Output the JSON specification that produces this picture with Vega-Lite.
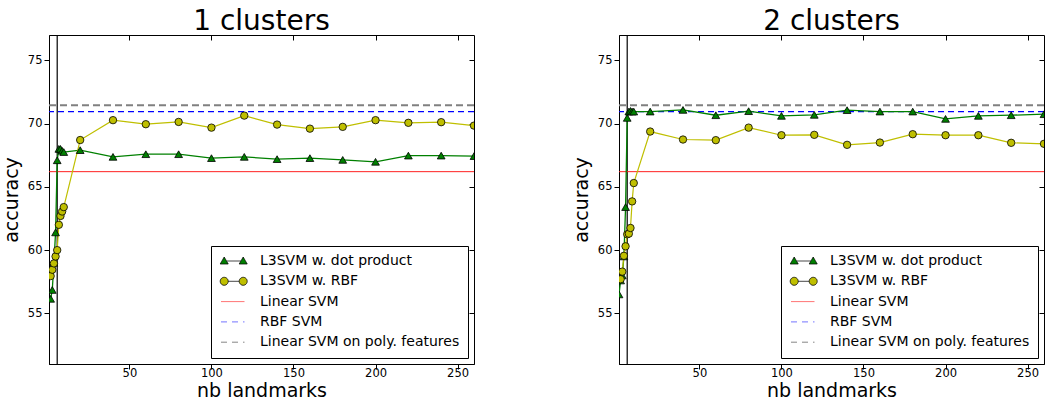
{
  "$schema": "https://vega.github.io/schema/vega-lite/v6.json",
  "padding": {"left": 1, "top": 7, "right": 0, "bottom": 0},
  "background": "white",
  "config": {
    "font": "DejaVu Sans",
    "view": {"stroke": "black", "strokeWidth": 1},
    "axis": {"labelFont": "DejaVu Sans", "labelFontSize": 11.5, "labelColor": "black", "tickColor": "black", "domainColor": "black", "titleFont": "DejaVu Sans", "titleFontSize": 19, "titleFontWeight": "normal", "titleColor": "black", "grid": false, "tickSize": 5},
    "title": {"font": "DejaVu Sans", "fontSize": 28, "fontWeight": "normal", "color": "black", "baseline": "alphabetic", "offset": -2, "anchor": "middle"},
    "legend": {"labelFont": "DejaVu Sans", "labelFontSize": 14, "labelColor": "black", "strokeColor": "black", "fillColor": "white", "padding": 8, "rowPadding": 6.3, "symbolSize": 100, "symbolOpacity": 1, "labelOffset": 27, "orient": "bottom-right", "offset": 6, "cornerRadius": 0, "labelLimit": 400, "title": null}
  },
  "datasets": {
    "p1": [
      {"series": "L3SVM w. dot product", "x": 2, "y": 56.15}, {"series": "L3SVM w. dot product", "x": 3, "y": 56.85}, {"series": "L3SVM w. dot product", "x": 4, "y": 59.0}, {"series": "L3SVM w. dot product", "x": 5, "y": 61.4}, {"series": "L3SVM w. dot product", "x": 6, "y": 67.1}, {"series": "L3SVM w. dot product", "x": 7, "y": 68.0}, {"series": "L3SVM w. dot product", "x": 8, "y": 68.0}, {"series": "L3SVM w. dot product", "x": 9, "y": 67.85}, {"series": "L3SVM w. dot product", "x": 10, "y": 67.75},
      {"series": "L3SVM w. dot product", "x": 20, "y": 67.9}, {"series": "L3SVM w. dot product", "x": 40, "y": 67.37}, {"series": "L3SVM w. dot product", "x": 60, "y": 67.58}, {"series": "L3SVM w. dot product", "x": 80, "y": 67.58}, {"series": "L3SVM w. dot product", "x": 100, "y": 67.27}, {"series": "L3SVM w. dot product", "x": 120, "y": 67.37}, {"series": "L3SVM w. dot product", "x": 140, "y": 67.19}, {"series": "L3SVM w. dot product", "x": 160, "y": 67.27}, {"series": "L3SVM w. dot product", "x": 180, "y": 67.13}, {"series": "L3SVM w. dot product", "x": 200, "y": 66.98}, {"series": "L3SVM w. dot product", "x": 220, "y": 67.47}, {"series": "L3SVM w. dot product", "x": 240, "y": 67.47}, {"series": "L3SVM w. dot product", "x": 260, "y": 67.43},
      {"series": "L3SVM w. RBF", "x": 2, "y": 57.95}, {"series": "L3SVM w. RBF", "x": 3, "y": 58.45}, {"series": "L3SVM w. RBF", "x": 4, "y": 58.95}, {"series": "L3SVM w. RBF", "x": 5, "y": 59.5}, {"series": "L3SVM w. RBF", "x": 6, "y": 60.0}, {"series": "L3SVM w. RBF", "x": 7, "y": 62.0}, {"series": "L3SVM w. RBF", "x": 8, "y": 62.7}, {"series": "L3SVM w. RBF", "x": 9, "y": 63.05}, {"series": "L3SVM w. RBF", "x": 10, "y": 63.4},
      {"series": "L3SVM w. RBF", "x": 20, "y": 68.7}, {"series": "L3SVM w. RBF", "x": 40, "y": 70.27}, {"series": "L3SVM w. RBF", "x": 60, "y": 69.95}, {"series": "L3SVM w. RBF", "x": 80, "y": 70.13}, {"series": "L3SVM w. RBF", "x": 100, "y": 69.68}, {"series": "L3SVM w. RBF", "x": 120, "y": 70.63}, {"series": "L3SVM w. RBF", "x": 140, "y": 69.92}, {"series": "L3SVM w. RBF", "x": 160, "y": 69.6}, {"series": "L3SVM w. RBF", "x": 180, "y": 69.74}, {"series": "L3SVM w. RBF", "x": 200, "y": 70.27}, {"series": "L3SVM w. RBF", "x": 220, "y": 70.06}, {"series": "L3SVM w. RBF", "x": 240, "y": 70.11}, {"series": "L3SVM w. RBF", "x": 260, "y": 69.84}
    ],
    "p2": [
      {"series": "L3SVM w. dot product", "x": 1, "y": 56.5}, {"series": "L3SVM w. dot product", "x": 2, "y": 57.6}, {"series": "L3SVM w. dot product", "x": 3, "y": 58.0}, {"series": "L3SVM w. dot product", "x": 4, "y": 59.5}, {"series": "L3SVM w. dot product", "x": 5, "y": 63.4}, {"series": "L3SVM w. dot product", "x": 6, "y": 70.45}, {"series": "L3SVM w. dot product", "x": 7, "y": 70.95}, {"series": "L3SVM w. dot product", "x": 8, "y": 71.0}, {"series": "L3SVM w. dot product", "x": 9, "y": 70.95}, {"series": "L3SVM w. dot product", "x": 10, "y": 70.95},
      {"series": "L3SVM w. dot product", "x": 20, "y": 70.95}, {"series": "L3SVM w. dot product", "x": 40, "y": 71.08}, {"series": "L3SVM w. dot product", "x": 60, "y": 70.66}, {"series": "L3SVM w. dot product", "x": 80, "y": 70.98}, {"series": "L3SVM w. dot product", "x": 100, "y": 70.61}, {"series": "L3SVM w. dot product", "x": 120, "y": 70.69}, {"series": "L3SVM w. dot product", "x": 140, "y": 71.06}, {"series": "L3SVM w. dot product", "x": 160, "y": 70.95}, {"series": "L3SVM w. dot product", "x": 180, "y": 70.95}, {"series": "L3SVM w. dot product", "x": 200, "y": 70.37}, {"series": "L3SVM w. dot product", "x": 220, "y": 70.61}, {"series": "L3SVM w. dot product", "x": 240, "y": 70.66}, {"series": "L3SVM w. dot product", "x": 260, "y": 70.74},
      {"series": "L3SVM w. RBF", "x": 2, "y": 57.7}, {"series": "L3SVM w. RBF", "x": 3, "y": 58.3}, {"series": "L3SVM w. RBF", "x": 4, "y": 59.55}, {"series": "L3SVM w. RBF", "x": 5, "y": 60.3}, {"series": "L3SVM w. RBF", "x": 6, "y": 61.25}, {"series": "L3SVM w. RBF", "x": 7, "y": 61.3}, {"series": "L3SVM w. RBF", "x": 8, "y": 61.75}, {"series": "L3SVM w. RBF", "x": 9, "y": 63.85}, {"series": "L3SVM w. RBF", "x": 10, "y": 65.3},
      {"series": "L3SVM w. RBF", "x": 20, "y": 69.37}, {"series": "L3SVM w. RBF", "x": 40, "y": 68.74}, {"series": "L3SVM w. RBF", "x": 60, "y": 68.69}, {"series": "L3SVM w. RBF", "x": 80, "y": 69.68}, {"series": "L3SVM w. RBF", "x": 100, "y": 69.08}, {"series": "L3SVM w. RBF", "x": 120, "y": 69.11}, {"series": "L3SVM w. RBF", "x": 140, "y": 68.32}, {"series": "L3SVM w. RBF", "x": 160, "y": 68.5}, {"series": "L3SVM w. RBF", "x": 180, "y": 69.16}, {"series": "L3SVM w. RBF", "x": 200, "y": 69.08}, {"series": "L3SVM w. RBF", "x": 220, "y": 69.08}, {"series": "L3SVM w. RBF", "x": 240, "y": 68.48}, {"series": "L3SVM w. RBF", "x": 260, "y": 68.4}
    ],
    "hl": [
      {"series": "Linear SVM", "y": 66.2},
      {"series": "RBF SVM", "y": 70.95},
      {"series": "Linear SVM on poly. features", "y": 71.45}
    ],
    "vl": [{"x": 6}]
  },
  "hconcat": [
    {
      "title": "1 clusters",
      "width": 425,
      "height": 329,
      "layer": [
        {
          "data": {"name": "vl"},
          "mark": {"type": "rule", "color": "black", "strokeWidth": 1.2},
          "encoding": {
            "x": {"field": "x", "type": "quantitative", "scale": {"domain": [1, 260], "nice": false, "zero": false}, "axis": {"orient": "top", "labels": false, "title": null, "domain": false, "tickSize": -5, "values": [50, 100, 150, 200, 250]}}
          }
        },
        {
          "data": {"name": "hl"},
          "transform": [{"filter": "datum.series === 'Linear SVM'"}],
          "mark": {"type": "rule", "color": "#ff2020", "strokeWidth": 1},
          "encoding": {
            "y": {"field": "y", "type": "quantitative", "scale": {"domain": [51, 77], "nice": false, "zero": false}, "axis": {"orient": "right", "labels": false, "title": null, "domain": false, "tickSize": -5, "values": [55, 60, 65, 70, 75]}}
          }
        },
        {
          "data": {"name": "hl"},
          "transform": [{"filter": "datum.series === 'RBF SVM'"}],
          "mark": {"type": "rule", "color": "#0000ff", "strokeWidth": 1.2, "strokeDash": [6, 4]},
          "encoding": {"y": {"field": "y", "type": "quantitative", "axis": null}}
        },
        {
          "data": {"name": "hl"},
          "transform": [{"filter": "datum.series === 'Linear SVM on poly. features'"}],
          "mark": {"type": "rule", "color": "#808080", "strokeWidth": 2, "strokeDash": [7, 4]},
          "encoding": {"y": {"field": "y", "type": "quantitative", "axis": null}}
        },
        {
          "data": {"name": "p1"},
          "transform": [{"filter": "datum.series === 'L3SVM w. dot product'"}],
          "mark": {"type": "line", "clip": true, "strokeWidth": 1.3, "color": "#008000"},
          "encoding": {
            "x": {"field": "x", "type": "quantitative", "axis": {"orient": "bottom", "title": "nb landmarks", "values": [50, 100, 150, 200, 250], "labelPadding": -2, "titlePadding": 3}},
            "y": {"field": "y", "type": "quantitative", "axis": {"orient": "left", "title": "accuracy", "values": [55, 60, 65, 70, 75], "labelPadding": 2, "titlePadding": 6}}
          }
        },
        {
          "data": {"name": "p1"},
          "transform": [{"filter": "datum.series === 'L3SVM w. RBF'"}],
          "mark": {"type": "line", "clip": true, "strokeWidth": 1.2, "color": "#bfbf00"},
          "encoding": {
            "x": {"field": "x", "type": "quantitative", "axis": null},
            "y": {"field": "y", "type": "quantitative", "axis": null}
          }
        },
        {
          "data": {"name": "p1"},
          "transform": [{"filter": "datum.series === 'L3SVM w. dot product'"}],
          "mark": {"type": "point", "shape": "triangle-up", "filled": true, "fill": "#008000", "stroke": "black", "strokeWidth": 0.8, "size": 60, "opacity": 1, "clip": true},
          "encoding": {
            "x": {"field": "x", "type": "quantitative", "axis": null},
            "y": {"field": "y", "type": "quantitative", "axis": null}
          }
        },
        {
          "data": {"name": "p1"},
          "transform": [{"filter": "datum.series === 'L3SVM w. RBF'"}],
          "mark": {"type": "point", "shape": "circle", "filled": true, "fill": "#bfbf00", "stroke": "black", "strokeWidth": 0.8, "size": 55, "opacity": 1, "clip": true},
          "encoding": {
            "x": {"field": "x", "type": "quantitative", "axis": null},
            "y": {"field": "y", "type": "quantitative", "axis": null}
          }
        },
        {
          "data": {"name": "hl"},
          "transform": [{"filter": "false"}],
          "mark": {"type": "point", "opacity": 1, "filled": true},
          "encoding": {
            "shape": {"field": "series", "type": "nominal", "scale": {"domain": ["L3SVM w. dot product", "L3SVM w. RBF", "Linear SVM", "RBF SVM", "Linear SVM on poly. features"], "range": ["M0.1,0L2.98,0M-0.36,-0.8L0.44,0.6L-1.16,0.6ZM3.44,-0.8L4.24,0.6L2.64,0.6Z", "M0.44,0L2.64,0M-1.16,0A0.8,0.8,0,1,0,0.44,0A0.8,0.8,0,1,0,-1.16,0ZM2.64,0A0.8,0.8,0,1,0,4.24,0A0.8,0.8,0,1,0,2.64,0Z", "M-1,0L3.7,0", "M-1,0L3.7,0", "M-1,0L3.7,0"]}},
            "fill": {"field": "series", "type": "nominal", "scale": {"domain": ["L3SVM w. dot product", "L3SVM w. RBF", "Linear SVM", "RBF SVM", "Linear SVM on poly. features"], "range": ["#008000", "#bfbf00", "transparent", "transparent", "transparent"]}},
            "stroke": {"field": "series", "type": "nominal", "scale": {"domain": ["L3SVM w. dot product", "L3SVM w. RBF", "Linear SVM", "RBF SVM", "Linear SVM on poly. features"], "range": ["black", "black", "#ff5050", "#5050ff", "#666666"]}},
            "strokeDash": {"field": "series", "type": "nominal", "scale": {"domain": ["L3SVM w. dot product", "L3SVM w. RBF", "Linear SVM", "RBF SVM", "Linear SVM on poly. features"], "range": [[1, 0], [1, 0], [1, 0], [6, 5], [6, 5]]}},
            "strokeWidth": {"field": "series", "type": "nominal", "scale": {"domain": ["L3SVM w. dot product", "L3SVM w. RBF", "Linear SVM", "RBF SVM", "Linear SVM on poly. features"], "range": [0.8, 0.8, 1.8, 1.8, 1.8]}}
          }
        }
      ]
    },
    {
      "title": "2 clusters",
      "width": 425,
      "height": 329,
      "layer": [
        {
          "data": {"name": "vl"},
          "mark": {"type": "rule", "color": "black", "strokeWidth": 1.2},
          "encoding": {
            "x": {"field": "x", "type": "quantitative", "scale": {"domain": [1, 260], "nice": false, "zero": false}, "axis": {"orient": "top", "labels": false, "title": null, "domain": false, "tickSize": -5, "values": [50, 100, 150, 200, 250]}}
          }
        },
        {
          "data": {"name": "hl"},
          "transform": [{"filter": "datum.series === 'Linear SVM'"}],
          "mark": {"type": "rule", "color": "#ff2020", "strokeWidth": 1},
          "encoding": {
            "y": {"field": "y", "type": "quantitative", "scale": {"domain": [51, 77], "nice": false, "zero": false}, "axis": {"orient": "right", "labels": false, "title": null, "domain": false, "tickSize": -5, "values": [55, 60, 65, 70, 75]}}
          }
        },
        {
          "data": {"name": "hl"},
          "transform": [{"filter": "datum.series === 'RBF SVM'"}],
          "mark": {"type": "rule", "color": "#0000ff", "strokeWidth": 1.2, "strokeDash": [6, 4]},
          "encoding": {"y": {"field": "y", "type": "quantitative", "axis": null}}
        },
        {
          "data": {"name": "hl"},
          "transform": [{"filter": "datum.series === 'Linear SVM on poly. features'"}],
          "mark": {"type": "rule", "color": "#808080", "strokeWidth": 2, "strokeDash": [7, 4]},
          "encoding": {"y": {"field": "y", "type": "quantitative", "axis": null}}
        },
        {
          "data": {"name": "p2"},
          "transform": [{"filter": "datum.series === 'L3SVM w. dot product'"}],
          "mark": {"type": "line", "clip": true, "strokeWidth": 1.3, "color": "#008000"},
          "encoding": {
            "x": {"field": "x", "type": "quantitative", "axis": {"orient": "bottom", "title": "nb landmarks", "values": [50, 100, 150, 200, 250], "labelPadding": -2, "titlePadding": 3}},
            "y": {"field": "y", "type": "quantitative", "axis": {"orient": "left", "title": "accuracy", "values": [55, 60, 65, 70, 75], "labelPadding": 2, "titlePadding": 6}}
          }
        },
        {
          "data": {"name": "p2"},
          "transform": [{"filter": "datum.series === 'L3SVM w. RBF'"}],
          "mark": {"type": "line", "clip": true, "strokeWidth": 1.2, "color": "#bfbf00"},
          "encoding": {
            "x": {"field": "x", "type": "quantitative", "axis": null},
            "y": {"field": "y", "type": "quantitative", "axis": null}
          }
        },
        {
          "data": {"name": "p2"},
          "transform": [{"filter": "datum.series === 'L3SVM w. dot product'"}],
          "mark": {"type": "point", "shape": "triangle-up", "filled": true, "fill": "#008000", "stroke": "black", "strokeWidth": 0.8, "size": 60, "opacity": 1, "clip": true},
          "encoding": {
            "x": {"field": "x", "type": "quantitative", "axis": null},
            "y": {"field": "y", "type": "quantitative", "axis": null}
          }
        },
        {
          "data": {"name": "p2"},
          "transform": [{"filter": "datum.series === 'L3SVM w. RBF'"}],
          "mark": {"type": "point", "shape": "circle", "filled": true, "fill": "#bfbf00", "stroke": "black", "strokeWidth": 0.8, "size": 55, "opacity": 1, "clip": true},
          "encoding": {
            "x": {"field": "x", "type": "quantitative", "axis": null},
            "y": {"field": "y", "type": "quantitative", "axis": null}
          }
        },
        {
          "data": {"name": "hl"},
          "transform": [{"filter": "false"}],
          "mark": {"type": "point", "opacity": 1, "filled": true},
          "encoding": {
            "shape": {"field": "series", "type": "nominal", "scale": {"domain": ["L3SVM w. dot product", "L3SVM w. RBF", "Linear SVM", "RBF SVM", "Linear SVM on poly. features"], "range": ["M0.1,0L2.98,0M-0.36,-0.8L0.44,0.6L-1.16,0.6ZM3.44,-0.8L4.24,0.6L2.64,0.6Z", "M0.44,0L2.64,0M-1.16,0A0.8,0.8,0,1,0,0.44,0A0.8,0.8,0,1,0,-1.16,0ZM2.64,0A0.8,0.8,0,1,0,4.24,0A0.8,0.8,0,1,0,2.64,0Z", "M-1,0L3.7,0", "M-1,0L3.7,0", "M-1,0L3.7,0"]}},
            "fill": {"field": "series", "type": "nominal", "scale": {"domain": ["L3SVM w. dot product", "L3SVM w. RBF", "Linear SVM", "RBF SVM", "Linear SVM on poly. features"], "range": ["#008000", "#bfbf00", "transparent", "transparent", "transparent"]}},
            "stroke": {"field": "series", "type": "nominal", "scale": {"domain": ["L3SVM w. dot product", "L3SVM w. RBF", "Linear SVM", "RBF SVM", "Linear SVM on poly. features"], "range": ["black", "black", "#ff5050", "#5050ff", "#666666"]}},
            "strokeDash": {"field": "series", "type": "nominal", "scale": {"domain": ["L3SVM w. dot product", "L3SVM w. RBF", "Linear SVM", "RBF SVM", "Linear SVM on poly. features"], "range": [[1, 0], [1, 0], [1, 0], [6, 5], [6, 5]]}},
            "strokeWidth": {"field": "series", "type": "nominal", "scale": {"domain": ["L3SVM w. dot product", "L3SVM w. RBF", "Linear SVM", "RBF SVM", "Linear SVM on poly. features"], "range": [0.8, 0.8, 1.8, 1.8, 1.8]}}
          }
        }
      ]
    }
  ],
  "spacing": 145,
  "bounds": "flush",
  "resolve": {"scale": {"x": "independent", "y": "independent", "shape": "independent", "fill": "independent", "stroke": "independent", "strokeDash": "independent", "strokeWidth": "independent"}, "legend": {"shape": "independent", "fill": "independent", "stroke": "independent", "strokeDash": "independent", "strokeWidth": "independent"}}
}
